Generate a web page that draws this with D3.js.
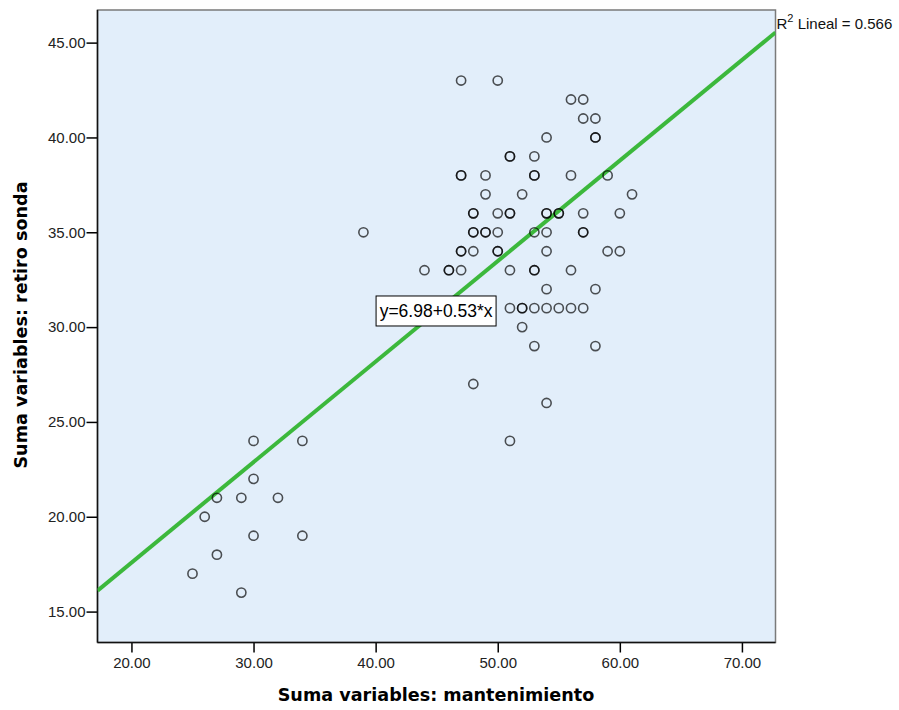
<!DOCTYPE html>
<html>
<head>
<meta charset="utf-8">
<script src="https://cdn.jsdelivr.net/npm/d3@7"></script>
<style>
  body { margin: 0; background: #fff; }
  svg { display: block; }
  .tick text { font-family: "Liberation Sans", Arial, sans-serif; font-size: 15px; fill: #222; }
  .tick line { stroke: #000; stroke-width: 1.5; }
  .title { font-family: "DejaVu Sans", Verdana, sans-serif; font-weight: bold; font-size: 17.6px; fill: #000; }
</style>
</head>
<body>
<svg width="899" height="710"></svg>
<script>
// mantenimiento (x) and retiro sonda (y), one entry per case
let mantenimiento = [
  25, 26, 27, 27, 29, 29, 30, 30, 30, 32, 34, 34,
  39,
  47, 50,
  56, 57,
  57, 58,
  54, 58, 58,
  51, 51, 53,
  47, 47, 49, 53, 53, 56, 59,
  49, 52, 61,
  48, 48, 50, 51, 51, 54, 54, 55, 55, 57, 60,
  48, 48, 49, 49, 50, 53, 54, 57, 57,
  47, 47, 48, 50, 50, 54, 59, 60,
  44, 46, 46, 47, 51, 53, 53, 56,
  54, 58,
  51, 52, 52, 53, 54, 55, 56, 57,
  52,
  53, 58,
  48,
  54,
  51
];
let retiroSonda = [
  17, 20, 21, 18, 21, 16, 24, 22, 19, 21, 24, 19,
  35,
  43, 43,
  42, 42,
  41, 41,
  40, 40, 40,
  39, 39, 39,
  38, 38, 38, 38, 38, 38, 38,
  37, 37, 37,
  36, 36, 36, 36, 36, 36, 36, 36, 36, 36, 36,
  35, 35, 35, 35, 35, 35, 35, 35, 35,
  34, 34, 34, 34, 34, 34, 34, 34,
  33, 33, 33, 33, 33, 33, 33, 33,
  32, 32,
  31, 31, 31, 31, 31, 31, 31, 31,
  30,
  29, 29,
  27,
  26,
  24
];

let xTicks = [20, 30, 40, 50, 60, 70];
let yTicks = [15, 20, 25, 30, 35, 40, 45];

let fit = { intercept: 6.98, slope: 0.53, r2: 0.566 };

let svg = d3.select("svg");

let margin = { left: 97.5, top: 10, right: 775.5, bottom: 642.5 };

let x = d3.scaleLinear()
  .domain([17.22, 72.75])
  .range([margin.left, margin.right]);

let y = d3.scaleLinear()
  .domain([13.37, 46.72])
  .range([margin.bottom, margin.top]);

// plot background
svg.append("rect")
  .attr("x", margin.left)
  .attr("y", margin.top)
  .attr("width", margin.right - margin.left)
  .attr("height", margin.bottom - margin.top)
  .style("fill", "#e2eefa")
  .style("stroke", "#7a7a7a")
  .style("stroke-width", 1.5);

svg.append("defs").append("clipPath")
  .attr("id", "clip")
  .append("rect")
  .attr("x", margin.left)
  .attr("y", margin.top)
  .attr("width", margin.right - margin.left)
  .attr("height", margin.bottom - margin.top);

// axes
let xAxis = svg.append("g")
  .attr("transform", `translate(0,${margin.bottom})`)
  .call(d3.axisBottom(x).tickValues(xTicks).tickSize(10).tickPadding(5).tickFormat(d3.format(".2f")));
xAxis.select(".domain").remove();

let yAxis = svg.append("g")
  .attr("transform", `translate(${margin.left},0)`)
  .call(d3.axisLeft(y).tickValues(yTicks).tickSize(11).tickPadding(1).tickFormat(d3.format(".2f")));
yAxis.select(".domain").remove();

svg.append("line")
  .attr("x1", margin.left).attr("x2", margin.left)
  .attr("y1", margin.top).attr("y2", margin.bottom)
  .style("stroke", "#111").style("stroke-width", 1.5);
svg.append("line")
  .attr("x1", margin.left).attr("x2", margin.right)
  .attr("y1", margin.bottom).attr("y2", margin.bottom)
  .style("stroke", "#111").style("stroke-width", 1.5);

// fit line
let xd = x.domain();
svg.append("line")
  .attr("clip-path", "url(#clip)")
  .attr("x1", x(xd[0]))
  .attr("y1", y(fit.intercept + fit.slope * xd[0]))
  .attr("x2", x(xd[1]))
  .attr("y2", y(fit.intercept + fit.slope * xd[1]))
  .style("stroke", "#3cb83c")
  .style("stroke-width", 4);

// points
let points = d3.zip(mantenimiento, retiroSonda);
svg.append("g")
  .selectAll("circle")
  .data(points)
  .enter().append("circle")
  .attr("cx", d => x(d[0]))
  .attr("cy", d => y(d[1]))
  .attr("r", 4.6)
  .style("fill", "none")
  .style("stroke", "#000")
  .style("stroke-opacity", 0.68)
  .style("stroke-width", 1.6);

// equation label
let eq = svg.append("g")
  .attr("transform", `translate(${x(44.95)},${y(30.85)})`);
eq.append("rect")
  .attr("x", -60).attr("y", -15)
  .attr("width", 120).attr("height", 30)
  .style("fill", "#fff")
  .style("stroke", "#000")
  .style("stroke-width", 1);
eq.append("text")
  .attr("text-anchor", "middle")
  .attr("y", 6)
  .style("font-family", "Liberation Sans, Arial, sans-serif")
  .style("font-size", "17.5px")
  .text("y=6.98+0.53*x");

// R2 label
let r2 = svg.append("text")
  .attr("x", margin.right + 1)
  .attr("y", 29)
  .style("font-family", "Liberation Sans, Arial, sans-serif")
  .style("font-size", "15px")
  .style("fill", "#111");
r2.append("tspan").text("R");
r2.append("tspan").attr("dy", -7).style("font-size", "11px").text("2");
r2.append("tspan").attr("dy", 7).text(" Lineal = " + fit.r2.toFixed(3));

// axis titles
svg.append("text")
  .attr("class", "title")
  .attr("x", 436)
  .attr("y", 701)
  .attr("text-anchor", "middle")
  .text("Suma variables: mantenimiento");

svg.append("text")
  .attr("class", "title")
  .attr("transform", "translate(27,325) rotate(-90)")
  .attr("text-anchor", "middle")
  .text("Suma variables: retiro sonda");
</script>
</body>
</html>
